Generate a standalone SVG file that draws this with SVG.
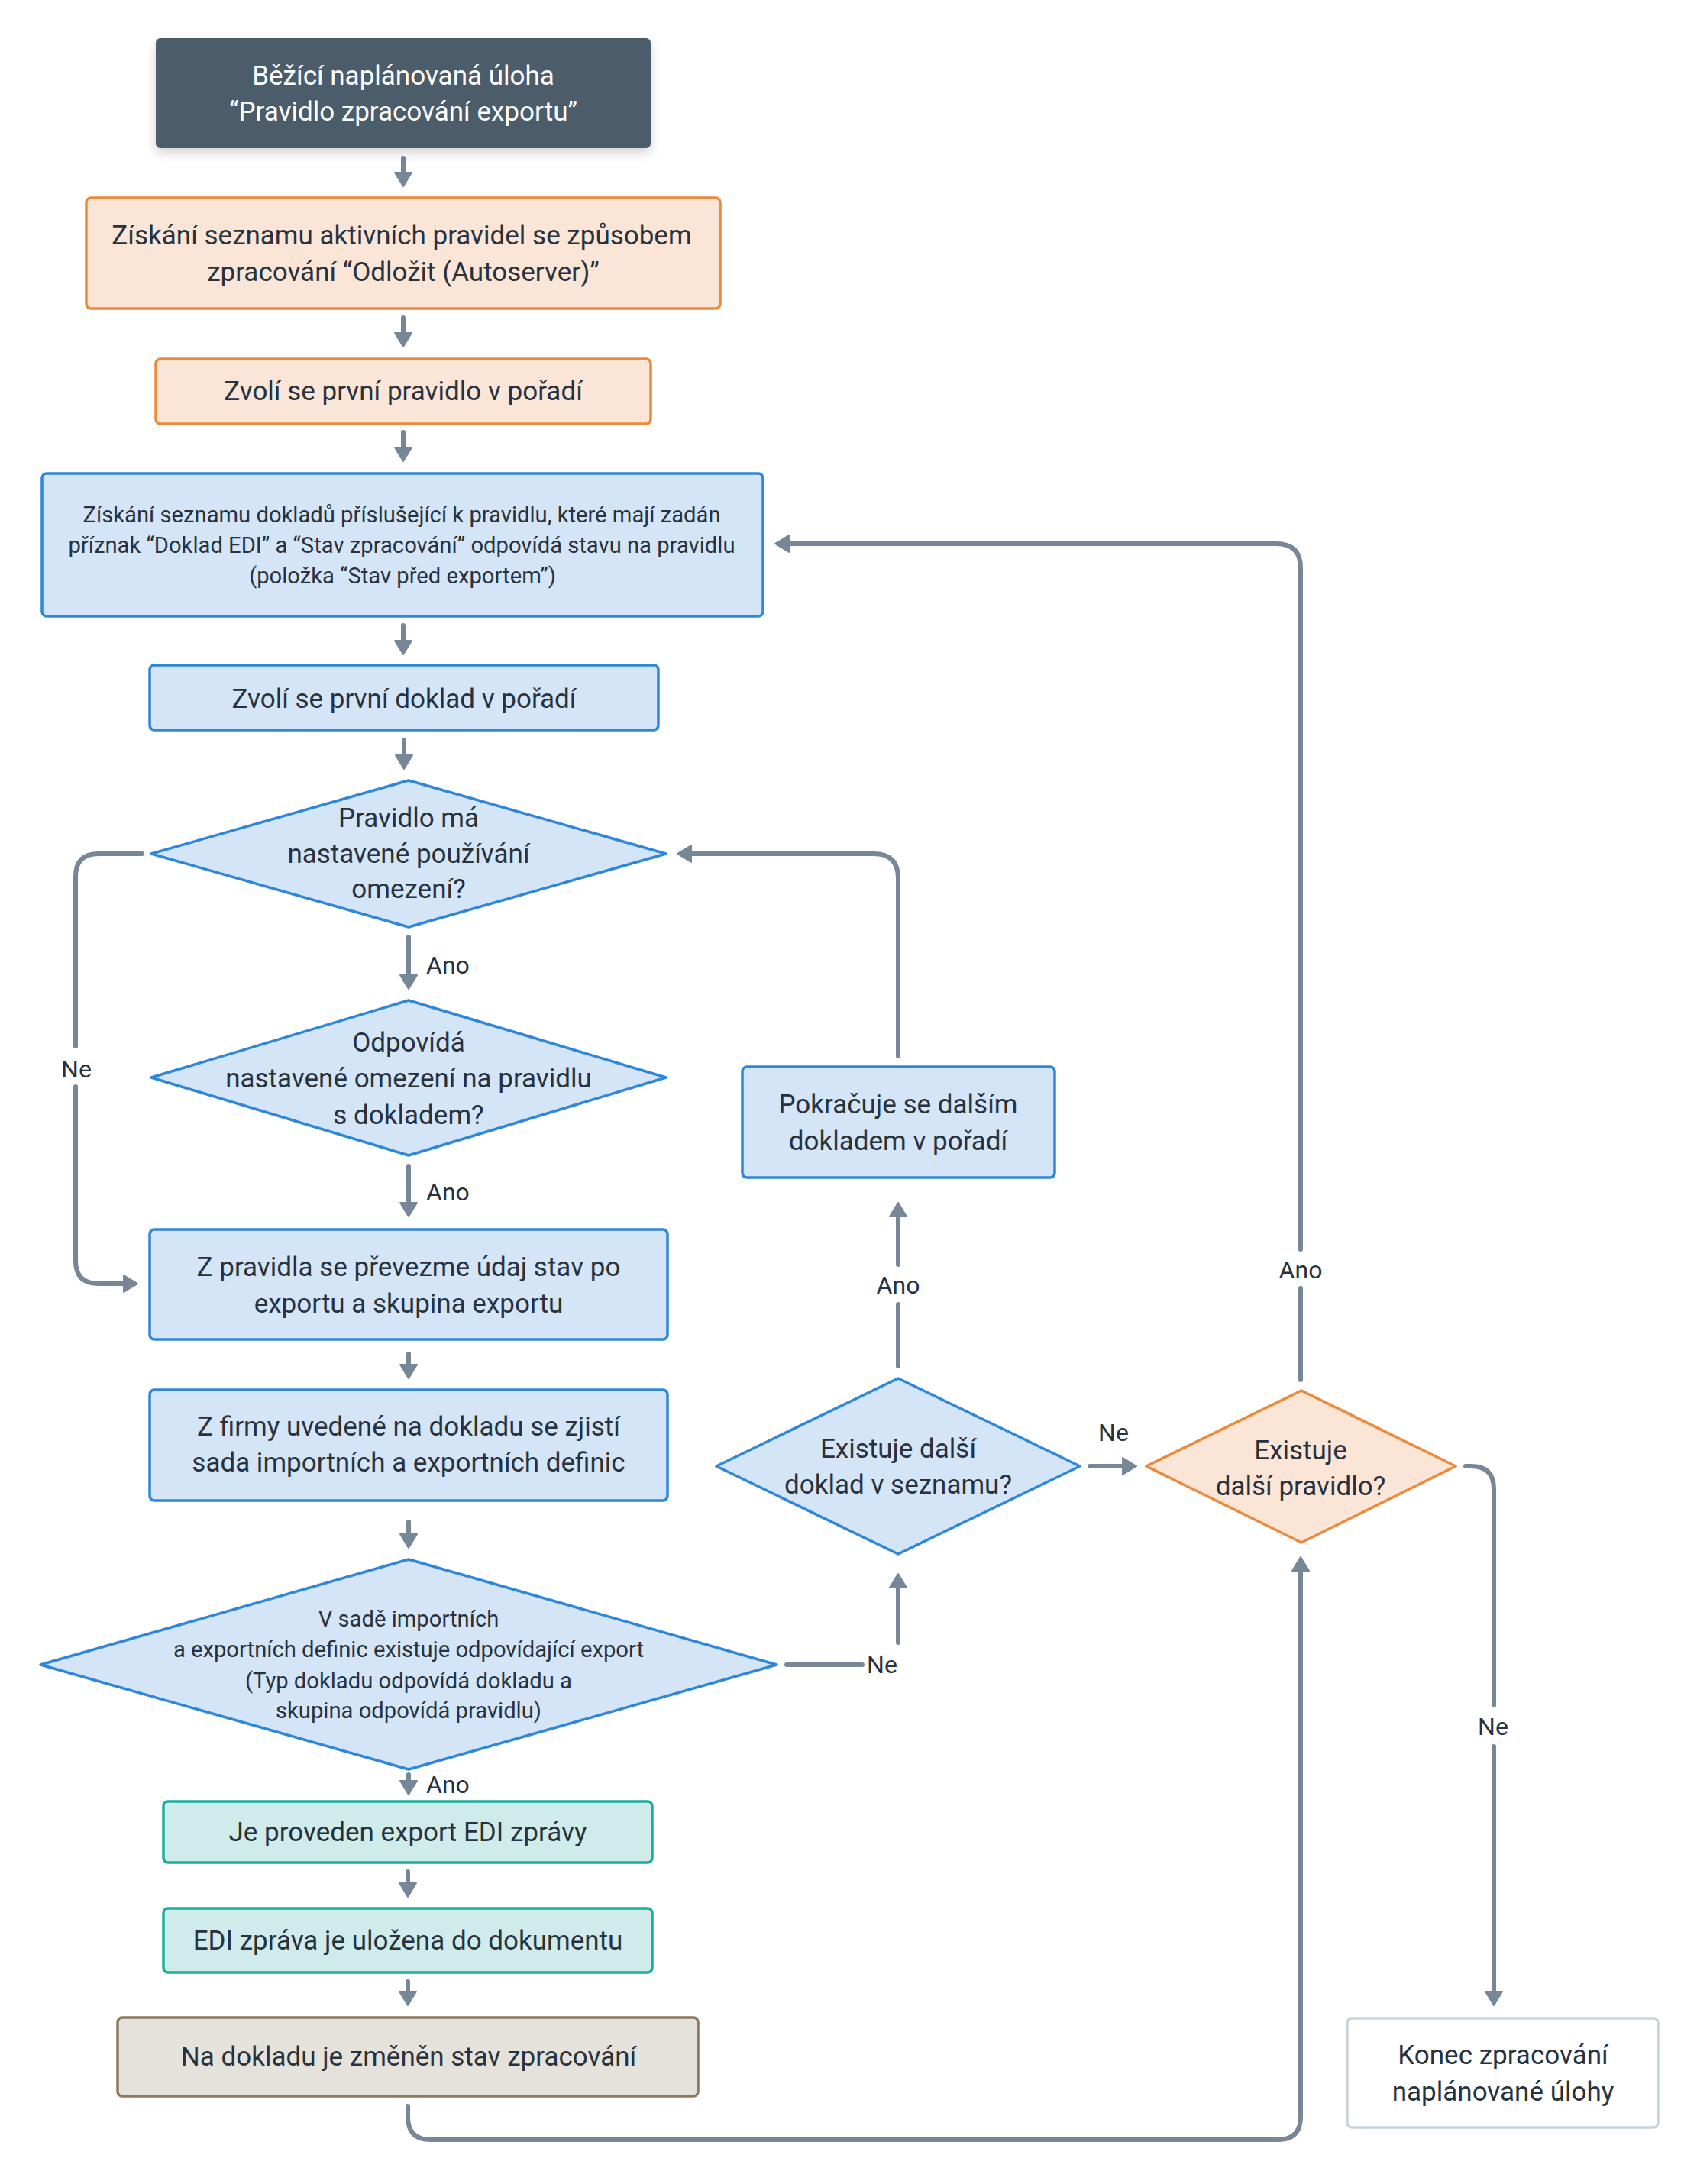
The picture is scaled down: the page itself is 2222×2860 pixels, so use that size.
<svg xmlns="http://www.w3.org/2000/svg" width="2222" height="2860" viewBox="0 0 2222 2860">
<defs>
<style>
text{font-family:Roboto,"Liberation Sans",sans-serif;fill:#28323e;text-anchor:middle}
.t{font-size:35px}
.s{font-size:29.2px}
.l{font-size:32px}
.w{fill:#ffffff}
.dark{fill:#4b5b6b}
.org{fill:#fbe5d6;stroke:#ec8a3c;stroke-width:3.5}
.blu{fill:#d3e5f6;stroke:#2e87da;stroke-width:3.5;stroke-linejoin:round}
.teal{fill:#d0ecea;stroke:#1bae9c;stroke-width:3.5}
.brn{fill:#e5e2dc;stroke:#8b7a5d;stroke-width:3.5}
.end{fill:#ffffff;stroke:#c8d3de;stroke-width:3.5}
.c{fill:none;stroke:#778797;stroke-width:6;stroke-linecap:round;stroke-linejoin:round}
</style>
<marker id="ah" viewBox="0 0 20 24" markerWidth="20" markerHeight="24" refX="12" refY="12" orient="auto" markerUnits="userSpaceOnUse">
<path d="M1,1 L19,12 L1,23 Z" fill="#778797" stroke="#778797" stroke-width="2" stroke-linejoin="round"/>
</marker>
<filter id="sh" x="-10%" y="-20%" width="120%" height="150%">
<feDropShadow dx="0" dy="6" stdDeviation="7" flood-color="#000" flood-opacity="0.18"/>
</filter>
</defs>

<g id="connectors">
<path class="c" marker-end="url(#ah)" d="M528,207 V237"/>
<path class="c" marker-end="url(#ah)" d="M528,416 V447"/>
<path class="c" marker-end="url(#ah)" d="M528,566 V597"/>
<path class="c" marker-end="url(#ah)" d="M528,819 V850"/>
<path class="c" marker-end="url(#ah)" d="M529,969 V1000"/>
<path class="c" marker-end="url(#ah)" d="M535,1227 V1288"/>
<path class="c" marker-end="url(#ah)" d="M535,1527 V1586"/>
<path class="c" d="M186,1118 H129 Q99,1118 99,1148 V1370"/>
<path class="c" marker-end="url(#ah)" d="M99,1423 V1651 Q99,1681 129,1681 H173"/>
<path class="c" marker-end="url(#ah)" d="M535,1773 V1798"/>
<path class="c" marker-end="url(#ah)" d="M535,1993 V2020"/>
<path class="c" marker-end="url(#ah)" d="M535,2324 V2343"/>
<path class="c" marker-end="url(#ah)" d="M534,2451 V2477"/>
<path class="c" marker-end="url(#ah)" d="M534,2595 V2619"/>
<path class="c" marker-end="url(#ah)" d="M534,2758 V2772 Q534,2802 564,2802 H1673 Q1703,2802 1703,2772 V2046"/>
<path class="c" d="M1030,2180 H1129"/>
<path class="c" marker-end="url(#ah)" d="M1176,2151 V2068"/>
<path class="c" d="M1176,1789 V1708"/>
<path class="c" marker-end="url(#ah)" d="M1176,1656 V1582"/>
<path class="c" marker-end="url(#ah)" d="M1176,1383 V1150 Q1176,1118 1144,1118 H894"/>
<path class="c" marker-end="url(#ah)" d="M1427,1920 H1481"/>
<path class="c" d="M1703,1807 V1687"/>
<path class="c" marker-end="url(#ah)" d="M1703,1636 V744 Q1703,712 1671,712 H1022"/>
<path class="c" d="M1919,1920 H1926 Q1956,1920 1956,1950 V2233"/>
<path class="c" marker-end="url(#ah)" d="M1956,2287 V2619"/>
<text class="l" x="558" y="1275" style="text-anchor:start">Ano</text>
<text class="l" x="558" y="1572" style="text-anchor:start">Ano</text>
<text class="l" x="100" y="1411">Ne</text>
<text class="l" x="558" y="2348" style="text-anchor:start">Ano</text>
<text class="l" x="1155" y="2191">Ne</text>
<text class="l" x="1176" y="1694">Ano</text>
<text class="l" x="1458" y="1887">Ne</text>
<text class="l" x="1703" y="1674">Ano</text>
<text class="l" x="1955" y="2272">Ne</text>
</g>

<g id="start">
<rect class="dark" x="204" y="50" width="648" height="144" rx="6" filter="url(#sh)"/>
<text class="t w" x="528" y="111">Běžící naplánovaná úloha</text>
<text class="t w" x="528" y="158">“Pravidlo zpracování exportu”</text>
</g>
<g id="get-rules">
<rect class="org" x="113" y="259" width="830" height="145" rx="6"/>
<text class="t" x="526" y="320">Získání seznamu aktivních pravidel se způsobem</text>
<text class="t" x="528" y="368">zpracování “Odložit (Autoserver)”</text>
</g>
<g id="first-rule">
<rect class="org" x="204" y="470" width="648" height="85" rx="6"/>
<text class="t" x="528" y="524">Zvolí se první pravidlo v pořadí</text>
</g>
<g id="get-docs">
<rect class="blu" x="55" y="620" width="944" height="187" rx="6"/>
<text class="s" x="526" y="684">Získání seznamu dokladů příslušející k pravidlu, které mají zadán</text>
<text class="s" x="526" y="724">příznak “Doklad EDI” a “Stav zpracování” odpovídá stavu na pravidlu</text>
<text class="s" x="527" y="764">(položka “Stav před exportem”)</text>
</g>
<g id="first-doc">
<rect class="blu" x="196" y="871" width="666" height="85" rx="6"/>
<text class="t" x="529" y="927">Zvolí se první doklad v pořadí</text>
</g>
<g id="has-limit">
<polygon class="blu" points="535,1022 872,1118 535,1214 198,1118"/>
<text class="t" x="535" y="1083">Pravidlo má</text>
<text class="t" x="535" y="1130">nastavené používání</text>
<text class="t" x="535" y="1176">omezení?</text>
</g>
<g id="limit-match">
<polygon class="blu" points="535,1310 872,1411 535,1513 198,1411"/>
<text class="t" x="535" y="1377">Odpovídá</text>
<text class="t" x="535" y="1424">nastavené omezení na pravidlu</text>
<text class="t" x="535" y="1472">s dokladem?</text>
</g>
<g id="take-state">
<rect class="blu" x="196" y="1610" width="678" height="144" rx="6"/>
<text class="t" x="535" y="1671">Z pravidla se převezme údaj stav po</text>
<text class="t" x="535" y="1719">exportu a skupina exportu</text>
</g>
<g id="next-doc">
<rect class="blu" x="972" y="1397" width="409" height="145" rx="6"/>
<text class="t" x="1176" y="1458">Pokračuje se dalším</text>
<text class="t" x="1176" y="1506">dokladem v pořadí</text>
</g>
<g id="firm-defs">
<rect class="blu" x="196" y="1820" width="678" height="145" rx="6"/>
<text class="t" x="535" y="1880">Z firmy uvedené na dokladu se zjistí</text>
<text class="t" x="535" y="1927">sada importních a exportních definic</text>
</g>
<g id="def-exists">
<polygon class="blu" points="535,2042 1017,2180 535,2317 53,2180"/>
<text class="s" x="535" y="2130">V sadě importních</text>
<text class="s" x="535" y="2170">a exportních definic existuje odpovídající export</text>
<text class="s" x="535" y="2211">(Typ dokladu odpovídá dokladu a</text>
<text class="s" x="535" y="2250">skupina odpovídá pravidlu)</text>
</g>
<g id="more-docs">
<polygon class="blu" points="1176,1805 1414,1920 1176,2035 938,1920"/>
<text class="t" x="1176" y="1909">Existuje další</text>
<text class="t" x="1176" y="1956">doklad v seznamu?</text>
</g>
<g id="more-rules">
<polygon class="org" style="stroke-linejoin:round" points="1704,1821 1906,1920 1704,2020 1501,1920"/>
<text class="t" x="1703" y="1911">Existuje</text>
<text class="t" x="1703" y="1958">další pravidlo?</text>
</g>
<g id="export">
<rect class="teal" x="214" y="2359" width="640" height="80" rx="6"/>
<text class="t" x="534" y="2411">Je proveden export EDI zprávy</text>
</g>
<g id="save">
<rect class="teal" x="214" y="2499" width="640" height="84" rx="6"/>
<text class="t" x="534" y="2553">EDI zpráva je uložena do dokumentu</text>
</g>
<g id="change-state">
<rect class="brn" x="154" y="2642" width="760" height="103" rx="6"/>
<text class="t" x="535" y="2705">Na dokladu je změněn stav zpracování</text>
</g>
<g id="end">
<rect class="end" x="1764" y="2643" width="407" height="143" rx="6"/>
<text class="t" x="1968" y="2703">Konec zpracování</text>
<text class="t" x="1968" y="2751">naplánované úlohy</text>
</g>
</svg>
